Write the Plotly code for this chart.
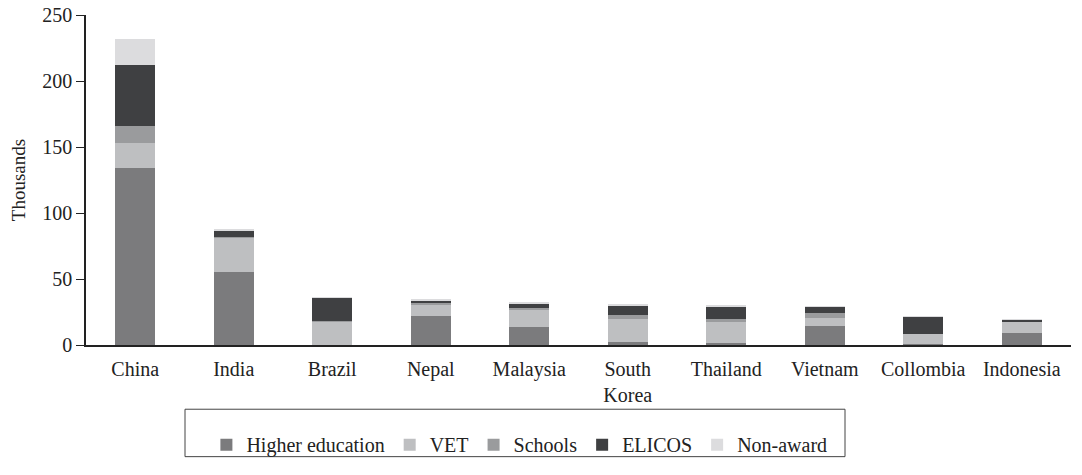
import plotly.graph_objects as go

# Student enrolments by source country and sector (thousands)
countries = ["China", "India", "Brazil", "Nepal", "Malaysia", "South<br>Korea",
             "Thailand", "Vietnam", "Collombia", "Indonesia"]

higher_education = [134, 55, 0.3, 22, 14, 2, 1.5, 14.7, 0.4, 9.2]
vet = [19, 26.5, 17.5, 8.5, 13, 18, 16.5, 5.7, 8, 8.5]
schools = [13, 0.5, 0.2, 1, 1, 3, 1.5, 3.8, 0.2, 0.3]
elicos = [46, 5, 18, 2.5, 3.5, 7, 10, 5, 13, 1]
non_award = [20, 0.5, 0.3, 1, 0.7, 0.5, 0.5, 0.3, 0.3, 0.3]

series = [
    ("Higher education", higher_education, "#7b7b7d"),
    ("VET", vet, "#bebfc1"),
    ("Schools", schools, "#9a9b9d"),
    ("ELICOS", elicos, "#3f4042"),
    ("Non-award", non_award, "#dcdcde"),
]

y_ticks = [0, 50, 100, 150, 200, 250]

FONT = "Liberation Serif"
TEXT = "#222222"

fig = go.Figure()
for name, values, color in series:
    fig.add_trace(go.Bar(
        name=name,
        x=countries,
        y=values,
        marker=dict(color=color, line=dict(width=0)),
    ))

fig.update_layout(
    barmode="stack",
    bargap=0.59,
    width=1082,
    height=475,
    margin=dict(l=86, r=11, t=15, b=126),
    paper_bgcolor="white",
    plot_bgcolor="white",
    font=dict(family=FONT, size=20, color=TEXT),
    showlegend=True,
    legend=dict(
        orientation="h",
        x=0.44,
        xanchor="center",
        y=-0.302,
        yanchor="middle",
        font=dict(family=FONT, size=20, color=TEXT),
        itemsizing="constant",
        traceorder="normal",
        itemwidth=30,
        bgcolor="rgba(0,0,0,0)",
    ),
    xaxis=dict(
        showline=True,
        linecolor=TEXT,
        linewidth=1.5,
        ticks="",
        showgrid=False,
        zeroline=False,
        ticklabelstandoff=5,
        automargin=False,
    ),
    yaxis=dict(
        range=[0, 250],
        tickvals=y_ticks,
        showline=True,
        linecolor=TEXT,
        linewidth=1.5,
        ticks="outside",
        ticklen=8,
        tickcolor=TEXT,
        showgrid=False,
        zeroline=False,
        automargin=False,
        title=dict(text="Thousands", font=dict(family=FONT, size=19), standoff=12),
    ),
    shapes=[dict(
        type="rect", xref="paper", yref="paper",
        x0=(185 - 86) / 985, x1=(845 - 86) / 985,
        y0=(349 - 462) / 334, y1=(349 - 414) / 334,
        line=dict(color="#444444", width=1),
        fillcolor="rgba(0,0,0,0)",
    )],
)

fig.write_html("out.html")
